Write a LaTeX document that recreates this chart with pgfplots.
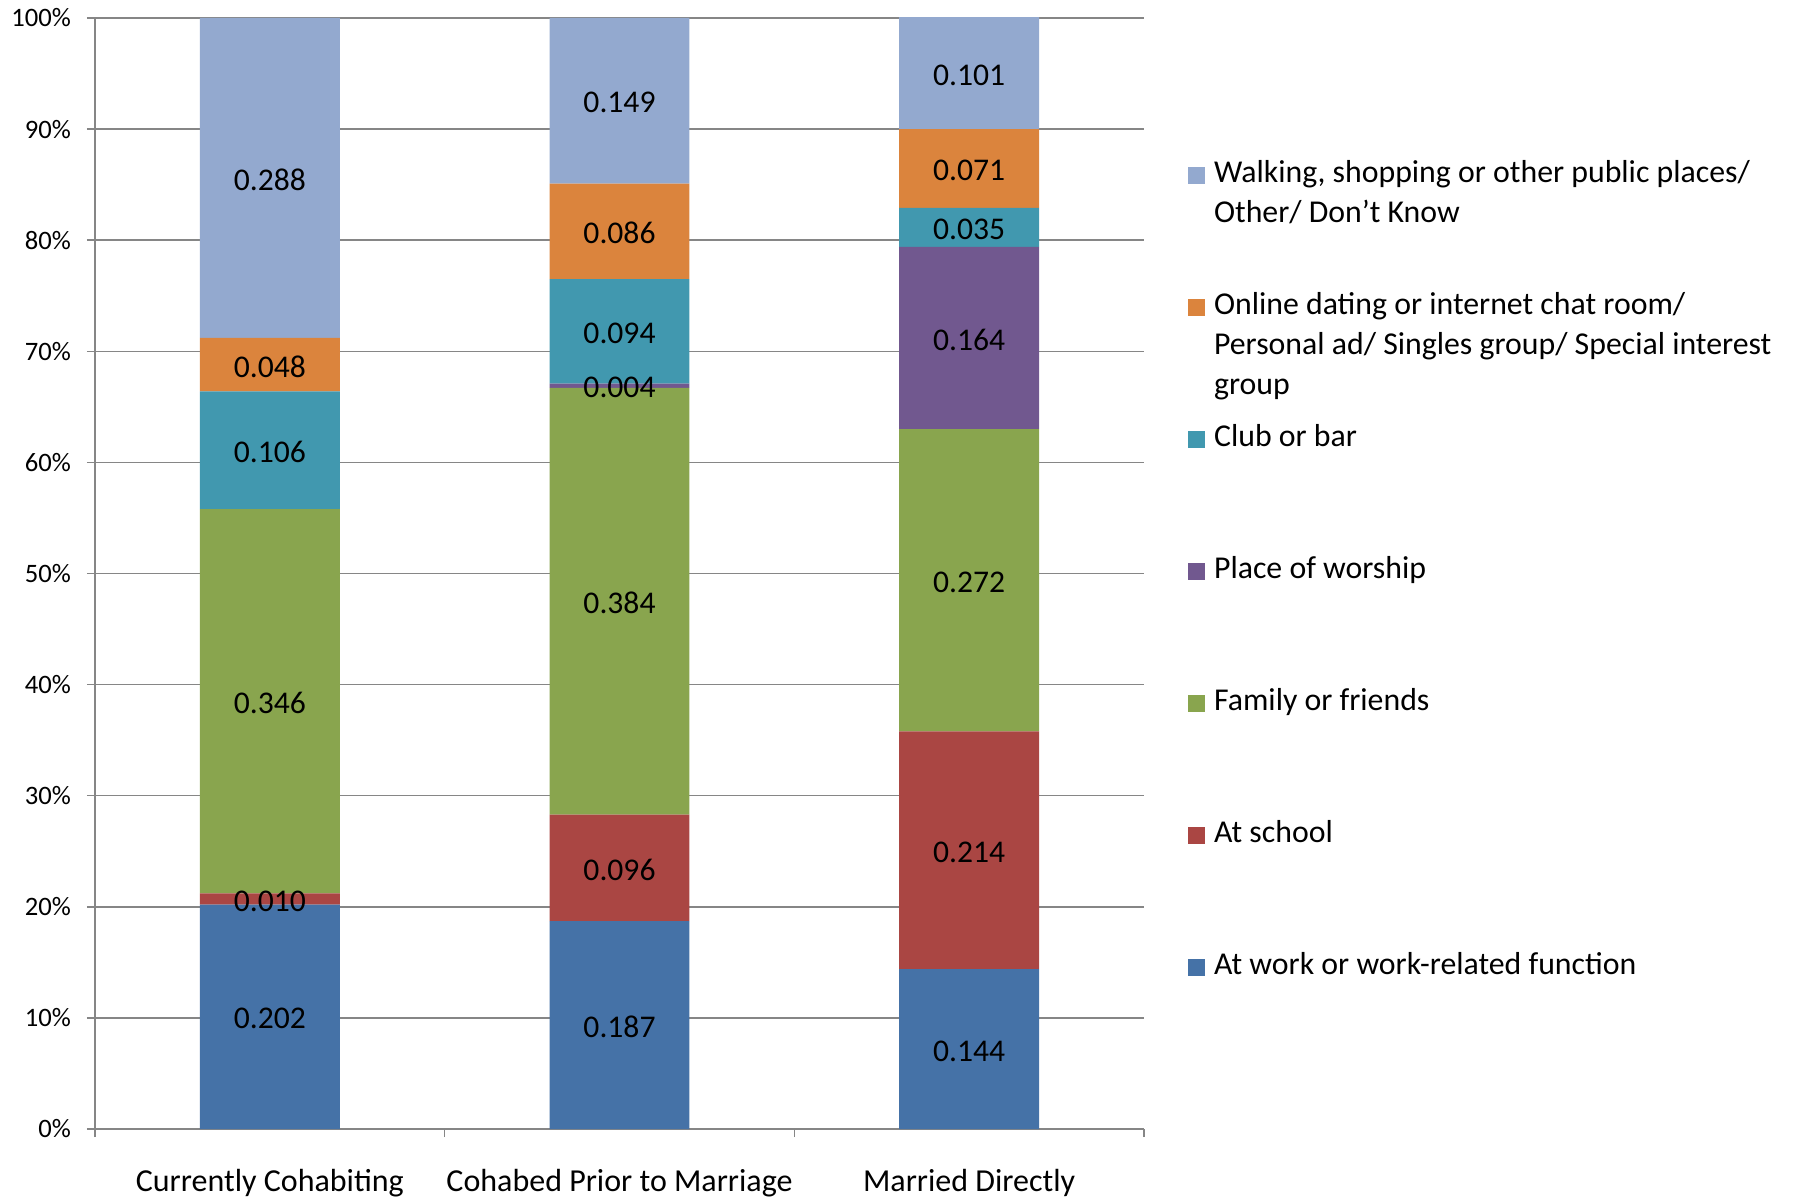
\documentclass[border=0pt]{standalone}
\usepackage{fontspec}
\setmainfont{Carlito}
\usepackage{pgfplots}
\usepackage{pgfplotstable}
\pgfplotsset{compat=1.18}

\definecolor{cWork}{HTML}{4572A7}
\definecolor{cSchool}{HTML}{AA4643}
\definecolor{cFamily}{HTML}{89A54E}
\definecolor{cWorship}{HTML}{71588F}
\definecolor{cClub}{HTML}{4198AF}
\definecolor{cOnline}{HTML}{DB843D}
\definecolor{cWalk}{HTML}{93A9CF}
\definecolor{gridgray}{HTML}{868686}

% Share of couples by where they met, for each relationship path
\pgfplotstableread{
x work  school family worship club  online walk
0 0.202 0.010  0.346  0.000   0.106 0.048  0.288
1 0.187 0.096  0.384  0.004   0.094 0.086  0.149
2 0.144 0.214  0.272  0.164   0.035 0.071  0.101
}\meetdata

% legend text: first line on the row baseline, further lines hang below it
\newcommand\legendbox[1]{\parbox[t]{290pt}{\raggedright\strut#1}}

\pgfplotsset{
  common geometry/.style={
    scale only axis, width=524.5pt, height=555.5pt,
    xmin=-0.5, xmax=2.5, ymin=0, ymax=1,
  },
  seg label/.style={
    draw=none, mark=none, forget plot,
    point meta=\thisrow{#1},
    nodes near coords={\pgfmathprintnumber[fixed,fixed zerofill,precision=3,assume math mode=true]{\pgfplotspointmeta}},
    every node near coord/.append style={anchor=center, text=black,
      font=\fontsize{15.8}{19}\selectfont, inner sep=0pt, yshift=-1pt},
  },
}

\begin{document}
\begin{tikzpicture}
\begin{axis}[
  name=main,
  common geometry,
  ybar stacked, bar width=0.4,
  axis x line*=bottom, axis y line*=left,
  axis line style={draw=gridgray, line width=0.75pt},
  tick align=outside, major tick length=4pt,
  tick style={draw=gridgray, line width=0.75pt},
  xtick={-0.5,0.5,1.5,2.5}, xticklabels={},
  extra x ticks={0,1,2},
  extra x tick labels={Currently Cohabiting, Cohabed Prior to Marriage, Married Directly},
  extra x tick style={major tick length=0pt, grid=none},
  xticklabel style={font=\fontsize{16}{19}\selectfont, yshift=-16.5pt},
  ytick={0,0.1,0.2,0.3,0.4,0.5,0.6,0.7,0.8,0.9,1},
  yticklabels={0\%,10\%,20\%,30\%,40\%,50\%,60\%,70\%,80\%,90\%,100\%},
  yticklabel style={font=\fontsize{13.3}{15}\selectfont, xshift=-4.5pt},
  ymajorgrids, grid style={draw=gridgray, line width=0.75pt},
  legend style={at={(axis description cs:1.042,0.877)}, anchor=north west,
    draw=none, fill=none, inner sep=0pt, outer sep=0pt, row sep=0pt, column sep=4.5pt,
    font=\fontsize{15.9}{20}\selectfont,
    cells={anchor=base west},
    nodes={inner sep=0pt, text height=14pt, text depth=52pt}},
  reverse legend,
  legend image code/.code={\fill[#1] (0pt,-0.6pt) rectangle (8.5pt,7.9pt);},
]
\addplot[fill=cWork, draw=none] table[x=x, y=work] {\meetdata};
\addlegendentry{\legendbox{At work or work-related function}}
\addplot[fill=cSchool, draw=none] table[x=x, y=school] {\meetdata};
\addlegendentry{\legendbox{At school}}
\addplot[fill=cFamily, draw=none] table[x=x, y=family] {\meetdata};
\addlegendentry{\legendbox{Family or friends}}
\addplot[fill=cWorship, draw=none] table[x=x, y=worship] {\meetdata};
\addlegendentry{\legendbox{Place of worship}}
\addplot[fill=cClub, draw=none] table[x=x, y=club] {\meetdata};
\addlegendentry{\legendbox{Club or bar}}
\addplot[fill=cOnline, draw=none] table[x=x, y=online] {\meetdata};
\addlegendentry{\legendbox{Online dating or internet chat room/\\Personal ad/ Singles group/ Special interest\\group}}
\addplot[fill=cWalk, draw=none] table[x=x, y=walk] {\meetdata};
\addlegendentry{\legendbox{Walking, shopping or other public places/\\Other/ Don’t Know}}
\end{axis}

% value labels, centred in each segment
\begin{axis}[common geometry, hide axis]
\addplot[seg label=work] table[x=x, y expr=0.5*\thisrow{work}] {\meetdata};
\addplot[seg label=school] table[x=x, y expr=\thisrow{work}+0.5*\thisrow{school}] {\meetdata};
\addplot[seg label=family] table[x=x, y expr=\thisrow{work}+\thisrow{school}+0.5*\thisrow{family}] {\meetdata};
\addplot[seg label=worship, skip coords between index={0}{1}] table[x=x,
  y expr=\thisrow{work}+\thisrow{school}+\thisrow{family}+0.5*\thisrow{worship}] {\meetdata};
\addplot[seg label=club] table[x=x,
  y expr=\thisrow{work}+\thisrow{school}+\thisrow{family}+\thisrow{worship}+0.5*\thisrow{club}] {\meetdata};
\addplot[seg label=online] table[x=x,
  y expr=\thisrow{work}+\thisrow{school}+\thisrow{family}+\thisrow{worship}+\thisrow{club}+0.5*\thisrow{online}] {\meetdata};
\addplot[seg label=walk] table[x=x,
  y expr=\thisrow{work}+\thisrow{school}+\thisrow{family}+\thisrow{worship}+\thisrow{club}+\thisrow{online}+0.5*\thisrow{walk}] {\meetdata};
\end{axis}

\pgfresetboundingbox
\path[use as bounding box] ([xshift=-47.5pt,yshift=-35pt]main.south west)
  rectangle ([xshift=851pt,yshift=9pt]main.north west);
\end{tikzpicture}
\end{document}
